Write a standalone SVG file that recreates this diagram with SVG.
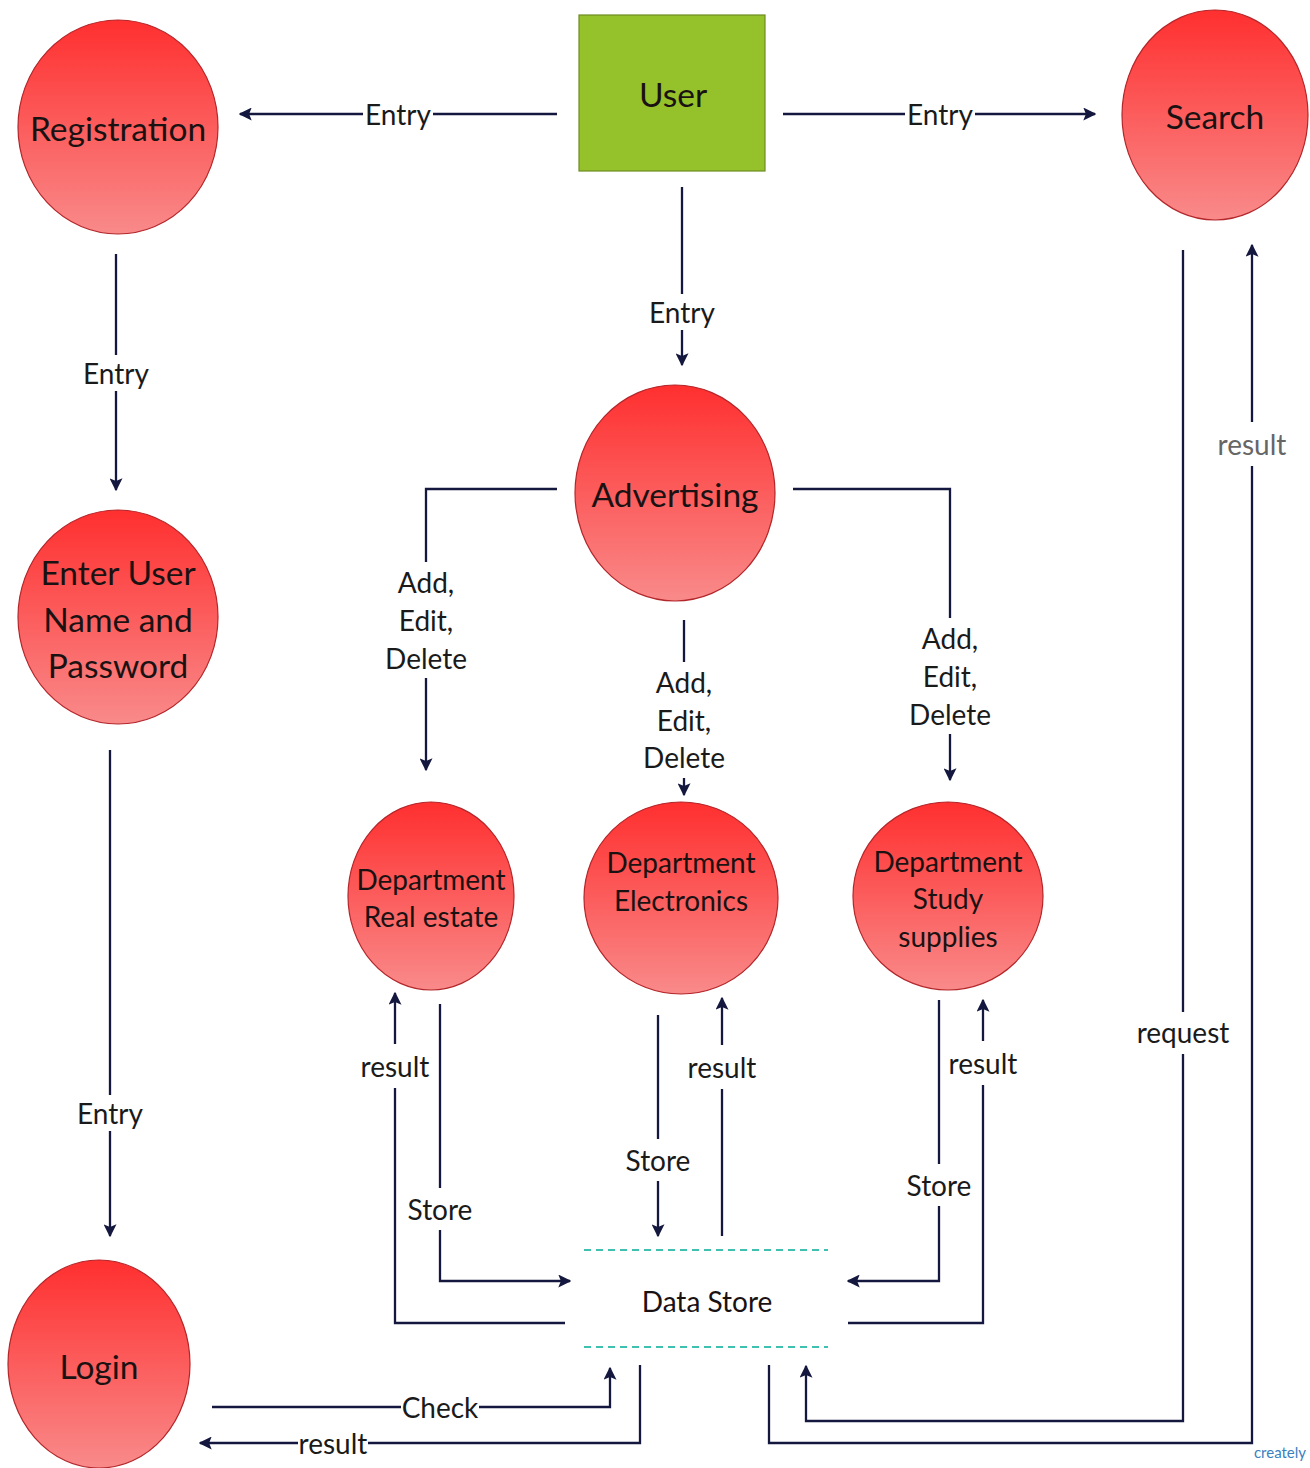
<svg xmlns="http://www.w3.org/2000/svg" width="1310" height="1468" viewBox="0 0 1310 1468">
<defs>
<linearGradient id="rg" x1="0" y1="0" x2="0" y2="1">
<stop offset="0" stop-color="#ff2f2f"/>
<stop offset="1" stop-color="#f98a8a"/>
</linearGradient>
<marker id="ah" viewBox="0 0 10 10" refX="9" refY="5" markerWidth="13" markerHeight="13" markerUnits="userSpaceOnUse" orient="auto">
<path d="M0,0 L10,5 L0,10 L2,5 z" fill="#14183f"/>
</marker>
<style>
.proc{fill:url(#rg);stroke:#b3262a;stroke-width:1.2}
.nt{font-family:Lato,"Liberation Sans",sans-serif;fill:#1a1212;text-anchor:middle;dominant-baseline:central}
.big{font-size:33.5px}
.mid{font-size:28px}
.c{fill:none;stroke:#14183f;stroke-width:2.3;marker-end:url(#ah)}
.lb{fill:#fff}
.lt{font-family:Lato,"Liberation Sans",sans-serif;font-size:28px;fill:#1a1a1a;text-anchor:middle;dominant-baseline:central}
.ds{stroke:#3fc1b0;stroke-width:2;stroke-dasharray:7,5}
</style>
</defs>
<rect width="1310" height="1468" fill="#fff"/>

<g id="connectors">
<path class="c" d="M557,114 H240"/>
<path class="c" d="M783,114 H1095"/>
<path class="c" d="M682,187 V365"/>
<path class="c" d="M116,254 V490"/>
<path class="c" d="M110,750 V1236"/>
<path class="c" d="M557,489 H426 V770"/>
<path class="c" d="M793,489 H950 V780"/>
<path class="c" d="M684,620 V795"/>
<path class="c" d="M565,1323 H395 V993"/>
<path class="c" d="M440,1004 V1281 H570"/>
<path class="c" d="M658,1015 V1236"/>
<path class="c" d="M722,1236 V998"/>
<path class="c" d="M939,1000 V1281 H848"/>
<path class="c" d="M848,1323 H983 V1000"/>
<path class="c" d="M212,1407 H610 V1368"/>
<path class="c" d="M640,1365 V1443 H200"/>
<path class="c" d="M1183,250 V1421 H806 V1366"/>
<path class="c" d="M769,1365 V1443 H1252 V245"/>

<rect class="lb" x="363" y="96" width="70" height="36"/>
<text class="lt" x="398" y="114">Entry</text>
<rect class="lb" x="905" y="96" width="70" height="36"/>
<text class="lt" x="940" y="114">Entry</text>
<rect class="lb" x="647" y="294" width="70" height="36"/>
<text class="lt" x="682" y="312">Entry</text>
<rect class="lb" x="81" y="355" width="70" height="36"/>
<text class="lt" x="116" y="373">Entry</text>
<rect class="lb" x="75" y="1095" width="70" height="36"/>
<text class="lt" x="110" y="1113">Entry</text>

<rect class="lb" x="384" y="562" width="84" height="116"/>
<text class="lt" x="426" y="582">Add,</text>
<text class="lt" x="426" y="620">Edit,</text>
<text class="lt" x="426" y="658">Delete</text>
<rect class="lb" x="908" y="618" width="84" height="116"/>
<text class="lt" x="950" y="638">Add,</text>
<text class="lt" x="950" y="676">Edit,</text>
<text class="lt" x="950" y="714">Delete</text>
<rect class="lb" x="642" y="662" width="84" height="116"/>
<text class="lt" x="684" y="682">Add,</text>
<text class="lt" x="684" y="720">Edit,</text>
<text class="lt" x="684" y="757">Delete</text>

<rect class="lb" x="358" y="1044" width="74" height="44"/>
<text class="lt" x="395" y="1066">result</text>
<rect class="lb" x="405" y="1188" width="70" height="42"/>
<text class="lt" x="440" y="1209">Store</text>
<rect class="lb" x="623" y="1139" width="70" height="42"/>
<text class="lt" x="658" y="1160">Store</text>
<rect class="lb" x="685" y="1045" width="74" height="44"/>
<text class="lt" x="722" y="1067">result</text>
<rect class="lb" x="904" y="1164" width="70" height="42"/>
<text class="lt" x="939" y="1185">Store</text>
<rect class="lb" x="946" y="1041" width="74" height="44"/>
<text class="lt" x="983" y="1063">result</text>

<rect class="lb" x="401" y="1389" width="78" height="36"/>
<text class="lt" x="440" y="1407">Check</text>
<rect class="lb" x="298" y="1425" width="70" height="36"/>
<text class="lt" x="333" y="1443">result</text>
<rect class="lb" x="1136" y="1012" width="94" height="42"/>
<text class="lt" x="1183" y="1032">request</text>
<rect class="lb" x="1215" y="422" width="74" height="44"/>
<text class="lt" x="1252" y="444" style="fill:#666">result</text>
</g>

<g id="user">
<rect x="579" y="15" width="186" height="156" fill="#95c12b" stroke="#6e8c22" stroke-width="1.2"/>
<text class="nt big" x="673" y="94">User</text>
</g>
<g id="registration">
<ellipse class="proc" cx="118" cy="127" rx="100" ry="107"/>
<text class="nt big" x="118" y="128">Registration</text>
</g>
<g id="search">
<ellipse class="proc" cx="1215" cy="115" rx="93" ry="105"/>
<text class="nt big" x="1215" y="116">Search</text>
</g>
<g id="enter-user">
<ellipse class="proc" cx="118" cy="617" rx="100" ry="107"/>
<text class="nt big" x="118" y="572">Enter User</text>
<text class="nt big" x="118" y="619">Name and</text>
<text class="nt big" x="118" y="665">Password</text>
</g>
<g id="login">
<ellipse class="proc" cx="99" cy="1364" rx="91" ry="104"/>
<text class="nt big" x="99" y="1366">Login</text>
</g>
<g id="advertising">
<ellipse class="proc" cx="675" cy="493" rx="100" ry="108"/>
<text class="nt big" x="675" y="494">Advertising</text>
</g>
<g id="dept-real-estate">
<ellipse class="proc" cx="431" cy="896" rx="83" ry="94"/>
<text class="nt mid" x="431" y="879">Department</text>
<text class="nt mid" x="431" y="916">Real estate</text>
</g>
<g id="dept-electronics">
<ellipse class="proc" cx="681" cy="898" rx="97" ry="96"/>
<text class="nt mid" x="681" y="862">Department</text>
<text class="nt mid" x="681" y="900">Electronics</text>
</g>
<g id="dept-study">
<ellipse class="proc" cx="948" cy="896" rx="95" ry="94"/>
<text class="nt mid" x="948" y="861">Department</text>
<text class="nt mid" x="948" y="898">Study</text>
<text class="nt mid" x="948" y="936">supplies</text>
</g>
<g id="data-store">
<line class="ds" x1="584" y1="1250" x2="828" y2="1250"/>
<line class="ds" x1="584" y1="1347" x2="828" y2="1347"/>
<text class="nt mid" x="707" y="1301">Data Store</text>
</g>
<g id="logo">
<text x="1280" y="1458" font-family="Lato,'Liberation Sans',sans-serif" font-size="15" fill="#3a7fc0" text-anchor="middle">creately</text>
</g>
</svg>
